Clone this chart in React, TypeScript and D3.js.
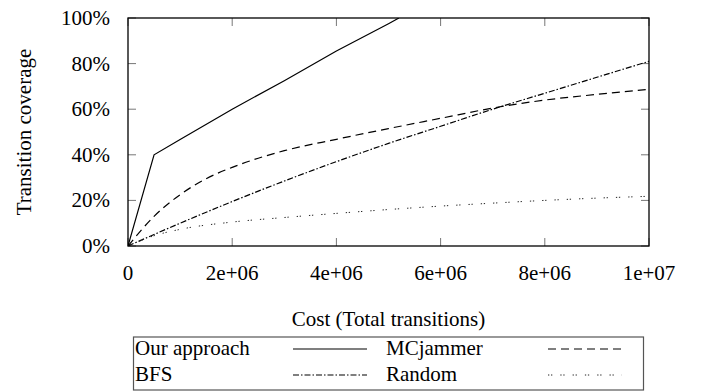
import React, { useEffect, useRef } from "react";
import * as d3 from "d3";

// x values (total transitions) and coverage in %
const ourX = [0, 5e5, 1e6, 2e6, 3e6, 4e6, 5e6, 5.2e6];
const ourY = [0, 40, 46.7, 60, 72.5, 85.5, 97.5, 100];

const mcX = [0, 5e5, 1e6, 1.5e6, 2e6, 2.5e6, 3e6, 4e6, 5e6, 6e6, 7e6, 8e6, 9e6, 1e7];
const mcY = [0, 13, 22.5, 29.5, 34.5, 38.5, 41.8, 46.8, 51.5, 56, 60.5, 64, 66.5, 68.7];

const bfsX = [0, 1e6, 2e6, 3e6, 4e6, 5e6, 6e6, 7e6, 8e6, 9e6, 1e7];
const bfsY = [0, 10, 19.5, 28.5, 37, 45, 52.5, 60, 67, 74, 81];

const rndX = [0, 5e5, 1e6, 2e6, 3e6, 4e6, 5e6, 6e6, 7e6, 8e6, 9e6, 1e7];
const rndY = [0, 4.5, 7.3, 10.5, 12.5, 14.3, 16, 17.5, 18.8, 20, 21, 21.8];

const xTicks = [0, 2e6, 4e6, 6e6, 8e6, 1e7];
const xTickLabels = ["0", "2e+06", "4e+06", "6e+06", "8e+06", "1e+07"];
const yTicks = [0, 20, 40, 60, 80, 100];
const yTickLabels = ["0%", "20%", "40%", "60%", "80%", "100%"];

const seriesNames = ["Our approach", "MCjammer", "BFS", "Random"];

const App = () => {
  const svgRef = useRef<SVGSVGElement>(null);

  useEffect(() => {
    document.body.style.margin = "0";
    const W = 702;
    const H = 392;
    const plot = { left: 128, right: 649, top: 18, bottom: 246 };
    const font = "Liberation Serif, DejaVu Serif, serif";
    const fs = 21;

    const svg = d3.select(svgRef.current).attr("width", W).attr("height", H);
    svg.selectAll("*").remove();
    svg.append("rect").attr("width", W).attr("height", H).attr("fill", "#fff");

    const x = d3.scaleLinear().domain([0, 1e7]).range([plot.left, plot.right]);
    const y = d3.scaleLinear().domain([0, 100]).range([plot.bottom, plot.top]);

    svg
      .append("defs")
      .append("clipPath")
      .attr("id", "plotclip")
      .append("rect")
      .attr("x", plot.left)
      .attr("y", plot.top)
      .attr("width", plot.right - plot.left)
      .attr("height", plot.bottom - plot.top);

    const tickLen = 8;
    const tickColor = "#777";

    // ticks on all four sides, pointing inward
    xTicks.forEach((t) => {
      svg.append("line").attr("x1", x(t)).attr("x2", x(t))
        .attr("y1", plot.bottom).attr("y2", plot.bottom - tickLen)
        .attr("stroke", tickColor).attr("stroke-width", 1);
      svg.append("line").attr("x1", x(t)).attr("x2", x(t))
        .attr("y1", plot.top).attr("y2", plot.top + tickLen)
        .attr("stroke", tickColor).attr("stroke-width", 1);
    });
    yTicks.forEach((t) => {
      svg.append("line").attr("x1", plot.left).attr("x2", plot.left + tickLen)
        .attr("y1", y(t)).attr("y2", y(t))
        .attr("stroke", tickColor).attr("stroke-width", 1);
      svg.append("line").attr("x1", plot.right).attr("x2", plot.right - tickLen)
        .attr("y1", y(t)).attr("y2", y(t))
        .attr("stroke", tickColor).attr("stroke-width", 1);
    });

    const txt = (sel: any) =>
      sel.style("font-family", font).style("font-size", fs + "px").attr("fill", "#000");

    // tick labels
    svg.selectAll(".xlab")
      .data(xTicks)
      .enter()
      .append("text")
      .attr("x", (d) => x(d))
      .attr("y", 280)
      .attr("text-anchor", "middle")
      .call(txt)
      .text((d, i) => xTickLabels[i]);

    svg.selectAll(".ylab")
      .data(yTicks)
      .enter()
      .append("text")
      .attr("x", 110)
      .attr("y", (d) => y(d) + 7)
      .attr("text-anchor", "end")
      .call(txt)
      .text((d, i) => yTickLabels[i]);

    // axis titles
    svg.append("text")
      .attr("x", (plot.left + plot.right) / 2)
      .attr("y", 326)
      .attr("text-anchor", "middle")
      .call(txt)
      .text("Cost (Total transitions)");

    svg.append("text")
      .attr("transform", `translate(31,${(plot.top + plot.bottom) / 2}) rotate(-90)`)
      .attr("text-anchor", "middle")
      .call(txt)
      .text("Transition coverage");

    // series
    const styles = [
      { dash: null, color: "#000", width: 1.2 },
      { dash: "8,5", color: "#000", width: 1.2 },
      { dash: "6,2,1.5,2", color: "#000", width: 1.2 },
      { dash: "1.3,1.7,1.3,8", color: "#222", width: 1 },
    ];
    const seriesX = [ourX, mcX, bfsX, rndX];
    const seriesY = [ourY, mcY, bfsY, rndY];

    const line = d3
      .line<[number, number]>()
      .x((d) => x(d[0]))
      .y((d) => y(d[1]))
      .curve(d3.curveMonotoneX);

    const g = svg.append("g").attr("clip-path", "url(#plotclip)");
    seriesX.forEach((xs, i) => {
      const pts = xs.map((v, j) => [v, seriesY[i][j]] as [number, number]);
      const p = g.append("path")
        .datum(pts)
        .attr("d", i === 0 ? d3.line<[number, number]>().x((d) => x(d[0])).y((d) => y(d[1])) : line)
        .attr("fill", "none")
        .attr("stroke", styles[i].color)
        .attr("stroke-width", styles[i].width);
      if (styles[i].dash) p.attr("stroke-dasharray", styles[i].dash);
    });

    // plot border
    svg.append("rect")
      .attr("x", plot.left)
      .attr("y", plot.top)
      .attr("width", plot.right - plot.left)
      .attr("height", plot.bottom - plot.top)
      .attr("fill", "none")
      .attr("stroke", "#000")
      .attr("stroke-width", 1.3);

    // legend
    const lg = { left: 133.5, right: 643.5, top: 337, bottom: 390 };
    svg.append("rect")
      .attr("x", lg.left)
      .attr("y", lg.top)
      .attr("width", lg.right - lg.left)
      .attr("height", lg.bottom - lg.top)
      .attr("fill", "none")
      .attr("stroke", "#555")
      .attr("stroke-width", 1.2);

    const rowBase = [355, 381];
    const textX = [135, 386];
    const sampleX = [[293, 367], [548, 622]];
    seriesNames.forEach((name, i) => {
      const row = Math.floor(i / 2);
      const col = i % 2;
      svg.append("text")
        .attr("x", textX[col])
        .attr("y", rowBase[row])
        .call(txt)
        .text(name);
      const ly = rowBase[row] - 6;
      const s = svg.append("line")
        .attr("x1", sampleX[col][0])
        .attr("x2", sampleX[col][1])
        .attr("y1", ly)
        .attr("y2", ly)
        .attr("stroke", styles[i].color)
        .attr("stroke-width", styles[i].width);
      if (styles[i].dash) s.attr("stroke-dasharray", styles[i].dash);
    });
  }, []);

  return <svg ref={svgRef} style={{ display: "block" }}></svg>;
};

export default App;
